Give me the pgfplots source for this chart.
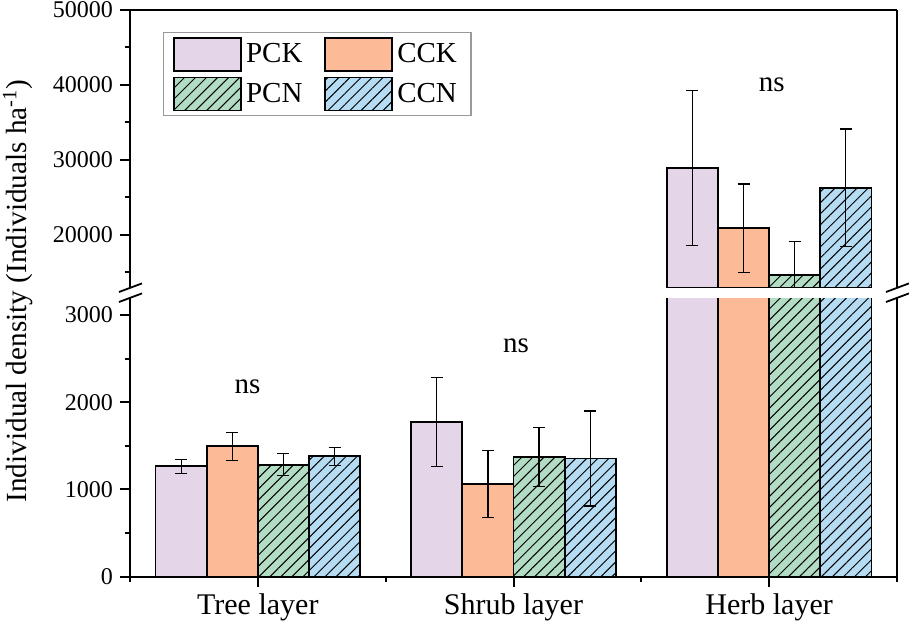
\documentclass[border=0pt]{standalone}
\usepackage{fontspec}
\setmainfont{Liberation Serif}
\usepackage{pgfplots}
\pgfplotsset{compat=1.18}
\usetikzlibrary{patterns.meta}

\definecolor{pck}{RGB}{229,213,232}
\definecolor{cck}{RGB}{253,186,150}
\definecolor{pcn}{RGB}{178,220,195}
\definecolor{ccn}{RGB}{181,220,243}

% layer: 1 tree, 2 shrub, 3 herb; mean and error per treatment
\pgfplotstableread{
x  pck   pcke   cck   ccke  pcn   pcne  ccn   ccne
1  1265  80     1495  160   1285  127   1380  102
2  1770  510    1065  385   1375  337   1355  544
3  28930 10330  20890 5910  14670 4440  26300 7830
}\datatable

\pgfplotsset{
  brk/.style={
    scale only axis, width=383.5pt,
    xmin=0.5, xmax=3.5,
    ybar, bar width=0.2,
    axis y line*=box, ytick pos=left,
    tick align=outside,
    major tick length=5pt, minor tick length=2.5pt,
    every tick/.style={black, line width=1pt},
    axis line style={-, line width=1.1pt},
    scaled y ticks=false,
    /pgf/number format/1000 sep={},
    /pgf/number format/assume math mode=true,
    yticklabel style={font=\fontsize{12}{14}\selectfont},
    xticklabel style={font=\fontsize{15}{17}\selectfont},
  },
  barbase/.style={draw=black, line width=0.9pt,
    error bars/y dir=both, error bars/y explicit,
    error bars/error bar style={line width=0.6pt, black},
    error bars/error mark options={line width=0.6pt, black, mark size=3pt, rotate=90}},
  hatch/.style={postaction={pattern={Lines[angle=45,distance=3.9pt,line width=0.5pt]}}},
}

\begin{document}
\begin{tikzpicture}
% lower segment 0-3200
\begin{axis}[brk, name=lower,
    height=139.35pt,
    ymin=0, ymax=3195,
    axis x line*=bottom,
    xtick={1,2,3}, xticklabels={Tree layer, Shrub layer, Herb layer},
    minor xtick={0.5,1.5,2.5,3.5},
    ytick={0,1000,2000,3000}, minor ytick={500,1500,2500},
]
\addplot[barbase, fill=pck, bar shift=-0.3] table[x=x, y=pck, y error=pcke] {\datatable};
\addplot[barbase, fill=cck, bar shift=-0.1] table[x=x, y=cck, y error=ccke] {\datatable};
\addplot[barbase, fill=pcn, hatch, bar shift=0.1] table[x=x, y=pcn, y error=pcne] {\datatable};
\addplot[barbase, fill=ccn, hatch, bar shift=0.3] table[x=x, y=ccn, y error=ccne] {\datatable};
\node[font=\fontsize{14.5}{16}\selectfont] at (axis cs:0.96,2176) {ns};
\node[font=\fontsize{14.5}{16}\selectfont] at (axis cs:2.01,2650) {ns};
\end{axis}

% upper segment 13000-50000 (only the herb layer reaches it)
\begin{axis}[brk, name=upper,
    at={(0,144.35pt)}, anchor=south west,
    height=139pt,
    ymin=12933, ymax=50000,
    axis x line*=top, xtick=\empty,
    ytick={20000,30000,40000,50000}, minor ytick={15000,25000,35000,45000},
    restrict x to domain=2.5:3.5,
    legend columns=2,
    legend style={at={(0.0426,0.92)}, anchor=north west,
      draw=gray!80, line width=0.6pt, fill=white,
      inner xsep=5pt, inner ysep=2pt, row sep=2.5pt,
      font=\fontsize{14.5}{16}\selectfont, cells={anchor=west},
      /tikz/every even column/.append style={column sep=9pt}},
    legend image code/.code={\draw[#1,/tikz/.cd,line width=0.9pt] (0pt,-8.25pt) rectangle (33.5pt,8.25pt);},
]
\addplot[barbase, fill=pck, bar shift=-0.3] table[x=x, y=pck, y error=pcke] {\datatable};
\addlegendentry{PCK}
\addplot[barbase, fill=cck, bar shift=-0.1] table[x=x, y=cck, y error=ccke] {\datatable};
\addlegendentry{CCK}
\addplot[barbase, fill=pcn, hatch, bar shift=0.1] table[x=x, y=pcn, y error=pcne] {\datatable};
\addlegendentry{PCN}
\addplot[barbase, fill=ccn, hatch, bar shift=0.3] table[x=x, y=ccn, y error=ccne] {\datatable};
\addlegendentry{CCN\hspace{8pt}}
\node[font=\fontsize{14.5}{16}\selectfont] at (axis cs:3.01,40000) {ns};
\end{axis}

% axis break marks
\foreach \a in {upper.south west, upper.south east, lower.north west, lower.north east}
  \draw[line width=0.9pt] ([xshift=-5.5pt,yshift=-2pt]\a) -- ([xshift=6pt,yshift=2.3pt]\a);

\node[rotate=90, font=\fontsize{14.6}{16}\selectfont] at (-56pt,142.85pt)
  {Individual density (Individuals ha\textsuperscript{-1})};

\pgfresetboundingbox
\path (-65pt,-24.65pt) rectangle (389.5pt,288.35pt);
\end{tikzpicture}
\end{document}
